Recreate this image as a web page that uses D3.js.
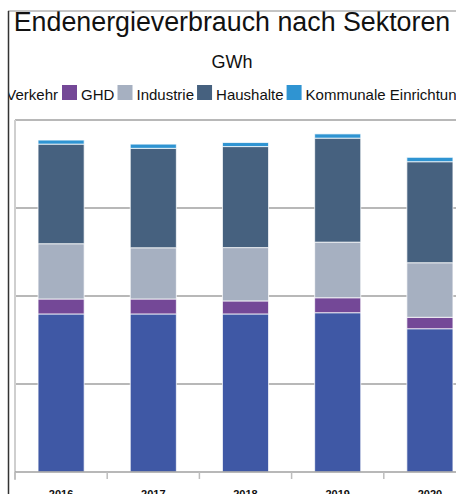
<!DOCTYPE html>
<html>
<head>
<meta charset="utf-8">
<script src="https://cdn.jsdelivr.net/npm/d3@7"></script>
<style>
  body { margin: 0; background: #fff; }
  svg { display: block; font-family: 'Liberation Sans', Arial, sans-serif; }
</style>
</head>
<body>
<script>
var years = ['2016', '2017', '2018', '2019', '2020'];
var sectors = ['Verkehr', 'GHD', 'Industrie', 'Haushalte', 'Kommunale Einrichtungen'];
var colors = ['#3f58a5', '#744897', '#a6b0c1', '#46617f', '#2f94d2'];

// GWh per sector, one value per year
var verkehr = [898, 898, 898, 905, 814];
var ghd = [85, 85, 74, 85, 65];
var industrie = [314, 291, 303, 316, 310];
var haushalte = [566, 565, 574, 591, 574];
var kommunal = [23, 24, 23, 24, 25];
var yTicks = [0, 500, 1000, 1500, 2000];

var width = 456,
  height = 494;

var rows = years.map(function(y, i) {
  return {
    year: y,
    'Verkehr': verkehr[i],
    'GHD': ghd[i],
    'Industrie': industrie[i],
    'Haushalte': haushalte[i],
    'Kommunale Einrichtungen': kommunal[i]
  };
});

var svg = d3.select('body').append('svg')
  .attr('width', width)
  .attr('height', height);

svg.append('clipPath').attr('id', 'frame')
  .append('rect')
  .attr('x', 8).attr('y', 11)
  .attr('width', width).attr('height', height);

var g = svg.append('g').attr('clip-path', 'url(#frame)');

var x = d3.scaleBand().domain(years).range([15, 476]).paddingInner(0.5).paddingOuter(0.25);
var y = d3.scaleLinear().domain([0, 2000]).range([472, 120]);
var color = d3.scaleOrdinal().domain(sectors).range(colors);

// title
g.append('text')
  .attr('x', 232)
  .attr('y', 31)
  .attr('text-anchor', 'middle')
  .style('font-size', '26.8px')
  .style('fill', '#111')
  .text('Endenergieverbrauch nach Sektoren');

g.append('text')
  .attr('x', 232)
  .attr('y', 68)
  .attr('text-anchor', 'middle')
  .style('font-size', '18px')
  .style('fill', '#111')
  .text('GWh');

// legend, laid out from the first visible swatch
var legend = g.append('g').attr('class', 'legend');
var lx = 62;
var legendItems = legend.selectAll('g')
  .data(sectors)
  .enter()
  .append('g');
legendItems.append('rect')
  .attr('width', 15)
  .attr('height', 15)
  .attr('y', 85)
  .style('fill', function(d) { return color(d); });
legendItems.append('text')
  .attr('x', 19)
  .attr('y', 99.5)
  .style('font-size', '15px')
  .style('fill', '#111')
  .text(function(d) { return d; });

var widths = [];
legendItems.each(function() {
  widths.push(this.getBBox().width);
});
var pos = [];
var cx = lx;
for (var i = 1; i < sectors.length; i++) {
  pos[i] = cx;
  cx += widths[i] + 3;
}
pos[0] = lx - 4 - widths[0];
legendItems.attr('transform', function(d, i) { return 'translate(' + pos[i] + ',0)'; });

// grid
g.append('g')
  .selectAll('line')
  .data(yTicks.slice(1))
  .enter()
  .append('line')
  .attr('x1', 15)
  .attr('x2', width)
  .attr('y1', function(d) { return y(d); })
  .attr('y2', function(d) { return y(d); })
  .style('stroke', '#a0a0a0')
  .style('stroke-width', 1.5);

g.append('line')
  .attr('x1', 15).attr('x2', 15)
  .attr('y1', 120).attr('y2', 480)
  .style('stroke', '#cfcfcf')
  .style('stroke-width', 2);

// bars
var series = d3.stack().keys(sectors)(rows);
g.append('g')
  .selectAll('g')
  .data(series)
  .enter()
  .append('g')
  .style('fill', function(d) { return color(d.key); })
  .selectAll('rect')
  .data(function(d) { return d; })
  .enter()
  .append('rect')
  .attr('x', function(d) { return x(d.data.year); })
  .attr('width', x.bandwidth())
  .attr('y', function(d) { return y(d[1]); })
  .attr('height', function(d) { return y(d[0]) - y(d[1]); })
  .style('stroke', 'rgba(255,255,255,0.75)')
  .style('stroke-width', 1);

// x axis
var xAxis = g.append('g')
  .attr('transform', 'translate(0,472)');
xAxis.append('line')
  .attr('x1', 15).attr('x2', width)
  .style('stroke', '#a0a0a0')
  .style('stroke-width', 1.5);
xAxis.selectAll('.tk')
  .data(years)
  .enter()
  .append('line')
  .attr('x1', function(d) { return x(d) - x.step() * x.paddingInner() / 2; })
  .attr('x2', function(d) { return x(d) - x.step() * x.paddingInner() / 2; })
  .attr('y1', 0).attr('y2', 7)
  .style('stroke', '#bdbdbd')
  .style('stroke-width', 1.5);
xAxis.selectAll('text')
  .data(years)
  .enter()
  .append('text')
  .attr('x', function(d) { return x(d) + x.bandwidth() / 2; })
  .attr('y', 26)
  .attr('text-anchor', 'middle')
  .style('font-size', '11px')
  .style('font-weight', 'bold')
  .style('fill', '#111')
  .text(function(d) { return d; });

// outer frame
svg.append('line')
  .attr('x1', 8).attr('x2', width)
  .attr('y1', 11).attr('y2', 11)
  .style('stroke', '#8a8a8a')
  .style('stroke-width', 1);
svg.append('line')
  .attr('x1', 8.5).attr('x2', 8.5)
  .attr('y1', 11).attr('y2', height)
  .style('stroke', '#333')
  .style('stroke-width', 1.5);
</script>
</body>
</html>
